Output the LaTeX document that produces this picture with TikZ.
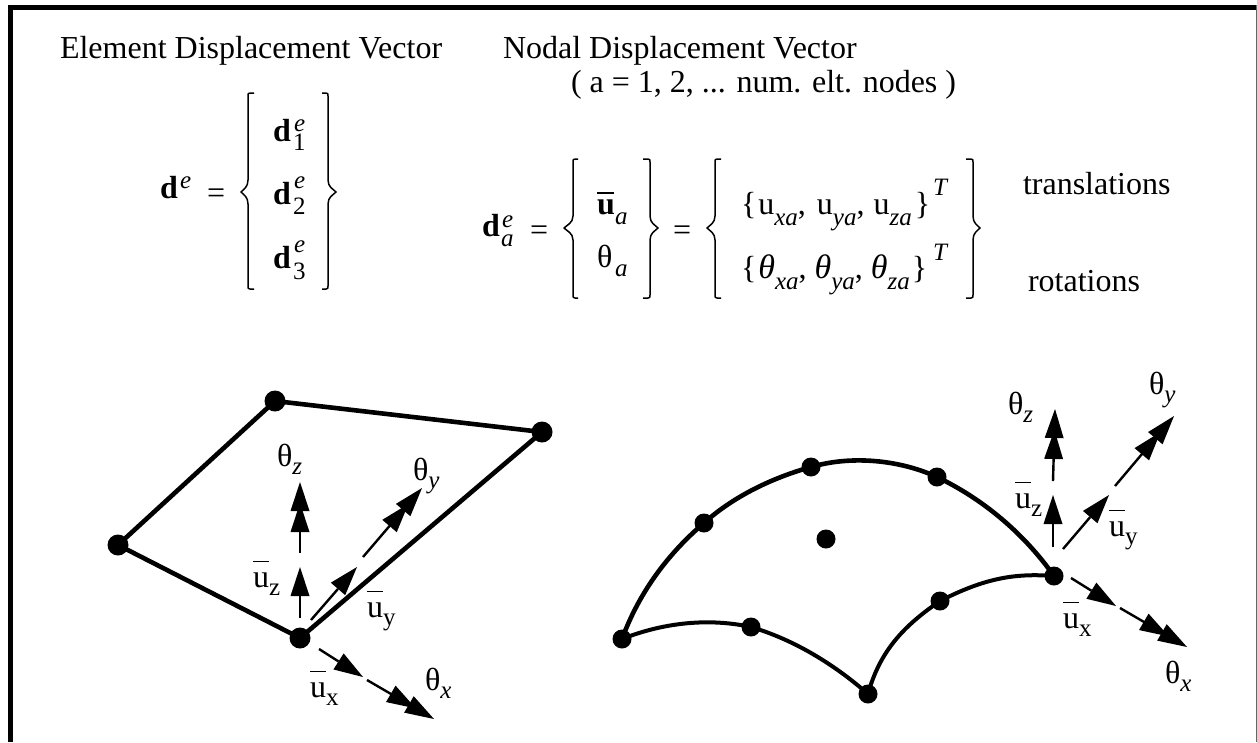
\documentclass[tikz,border=0pt]{standalone}
\usepackage{fontspec}
\setmainfont{Liberation Serif}
\usetikzlibrary{arrows.meta}
\newcommand{\mysb}[1]{\raisebox{-11pt}{\fontsize{25}{25}\selectfont\itshape #1}}
\newcommand{\mysbup}[1]{\raisebox{-8pt}{\fontsize{25}{25}\selectfont #1}}
\newcommand{\ubr}{\rlap{\raisebox{25pt}{\rule{16pt}{1pt}}}u}
\newcommand{\ubb}{\rlap{\raisebox{20pt}{\rule{17pt}{2pt}}}\textbf{u}}
\newcommand{\smit}[1]{{\fontsize{25}{25}\selectfont\itshape #1}}
\tikzset{
  x=1pt,y=-1pt,
  txt/.style={inner sep=0pt,outer sep=0pt,anchor=base west,font=\fontsize{32}{36}\selectfont},
  small/.style={inner sep=0pt,outer sep=0pt,anchor=base west,font=\fontsize{25}{28}\selectfont\itshape},
  dot/.style={circle,fill=black,inner sep=0pt,minimum size=19pt},
  bigdot/.style={circle,fill=black,inner sep=0pt,minimum size=21pt},
  edge/.style={line width=4.6pt,line join=round},
  bracepath/.style={line width=1.5pt,line join=round},
  shaft/.style={line width=2.4pt,-{Triangle[length=29pt,width=19pt,line width=0pt]}},
  shafttwo/.style={line width=2.4pt,-{Triangle[length=29pt,width=19pt,line width=0pt,sep=-8pt]Triangle[length=29pt,width=19pt,line width=0pt]}},
}
\newcommand{\lbr}[6]{% spine tip serif top mid bottom
  \draw[bracepath] (#3,#4) -- (#1+2,#4) .. controls (#1,#4) and (#1,#4+1) .. (#1,#4+3) -- (#1,#5-12) .. controls (#1,#5-5) and (#2+3,#5-3) .. (#2,#5) .. controls (#2+3,#5+3) and (#1,#5+5) .. (#1,#5+12) -- (#1,#6-3) .. controls (#1,#6-1) and (#1,#6) .. (#1+2,#6) -- (#3,#6);}
\newcommand{\rbr}[6]{%
  \draw[bracepath] (#3,#4) -- (#1-2,#4) .. controls (#1,#4) and (#1,#4+1) .. (#1,#4+3) -- (#1,#5-12) .. controls (#1,#5-5) and (#2-3,#5-3) .. (#2,#5) .. controls (#2-3,#5+3) and (#1,#5+5) .. (#1,#5+12) -- (#1,#6-3) .. controls (#1,#6-1) and (#1,#6) .. (#1-2,#6) -- (#3,#6);}
\begin{document}
\begin{tikzpicture}
\useasboundingbox (0,0) rectangle (1257,742);
\fill[white] (0,0) rectangle (1257,742);
% frame
\fill[black] (8,5) rectangle (1257,9.5);
\fill[black] (8,5) rectangle (13,742);
\fill[black!60] (1255.5,5) rectangle (1257,742);
% headings
\node[txt] (h1) at (60,58) {Element Displacement Vector};
\node[txt] (h2) at (503,58) {Nodal Displacement Vector};
\node[txt] (h3) at (571,92) {( a = 1, 2, ... num. elt. nodes )};
% element vector
\node[txt] (de) at (160,198) {\textbf{d}};
\node[small] (dee) at (180,188) {e};
\node[txt] (eq1) at (207,203) {=};
\lbr{248}{241}{254}{93}{192}{289}
\rbr{328}{336}{322}{93}{192}{289}
\node[txt] (d1) at (273,141) {\textbf{d}};
\node[small] (d1e) at (294,131) {e};
\node[small,font=\fontsize{25}{28}\selectfont] (d1s) at (293,150) {1};
\node[txt] (d2) at (273,204) {\textbf{d}};
\node[small] (d2e) at (294,188) {e};
\node[small,font=\fontsize{25}{28}\selectfont] (d2s) at (293,214) {2};
\node[txt] (d3) at (273,268) {\textbf{d}};
\node[small] (d3e) at (294,252) {e};
\node[small,font=\fontsize{25}{28}\selectfont] (d3s) at (293,279) {3};
% nodal vector
\node[txt] (da) at (482,236) {\textbf{d}};
\node[small] (dae) at (502,227) {e};
\node[small] (das) at (501,246) {a};
\node[txt] (eq2) at (530,240) {=};
\lbr{573}{564}{578}{159}{228}{298}
\rbr{650}{658}{643}{159}{228}{298}
\node[txt] (ua) at (597,214) {\ubb};
\node[small] (uas) at (615,224) {a};
\node[txt] (tha) at (597,267) {θ};
\node[small] (thas) at (615,276) {a};
\node[txt] (eq3) at (673,240) {=};
\lbr{715}{707}{721}{159}{228}{298}
\rbr{973}{980}{966}{159}{228}{298}
\node[txt] (r1) at (741,214) {\{\hspace{2pt}u\mysb{xa},\hspace{3pt} u\mysb{ya},\hspace{1pt} u\mysb{za}\hspace{3pt}\}};
\node[txt,font=\fontsize{25}{30}\selectfont\itshape] (t1) at (933,195) {T};
\node[txt] (r2) at (741,278) {\{\hspace{2pt}{\fontsize{34}{36}\selectfont\textit{θ}}\mysb{xa}, {\fontsize{34}{36}\selectfont\textit{θ}}\mysb{ya}, {\fontsize{34}{36}\selectfont\textit{θ}}\mysb{za}\hspace{2pt}\}};
\node[txt,font=\fontsize{25}{30}\selectfont\itshape] (t2) at (933,260) {T};
\node[txt] (tr) at (1023,194) {translations};
\node[txt] (ro) at (1028,291) {rotations};
% flat element
\node[bigdot] (qa) at (118,545) {};
\node[bigdot] (qb) at (275,401) {};
\node[bigdot] (qc) at (542,432) {};
\node[bigdot] (qd) at (300,638) {};
\draw[edge] (qa.center) -- (qb.center) -- (qc.center) -- (qd.center) -- cycle;
\coordinate (zs) at (300,618); \coordinate (ze) at (300,567);
\coordinate (zt) at (300,553); \coordinate (zf) at (300,482);
\draw[shaft] (zs) -- (ze);
\draw[shafttwo] (zt) -- (zf);
\coordinate (ys) at (311,620); \coordinate (ye) at (357,567);
\coordinate (yt) at (363,557); \coordinate (yf) at (422,488);
\draw[shaft] (ys) -- (ye);
\draw[shafttwo] (yt) -- (yf);
\coordinate (xs) at (319,649); \coordinate (xe) at (363,677);
\coordinate (xt) at (367,680); \coordinate (xf) at (434,719);
\draw[shaft] (xs) -- (xe);
\draw[shafttwo] (xt) -- (xf);
\node[txt] (lthz) at (277,466) {θ\raisebox{-8pt}{\smit{z}}};
\node[txt] (lthy) at (413,480) {θ\raisebox{-8pt}{\smit{y}}};
\node[txt] (lthx) at (425,690) {θ\raisebox{-8pt}{\smit{x}}};
\node[txt] (luz) at (253,587) {\ubr\mysbup{z}};
\node[txt] (luy) at (367,617) {\ubr\mysbup{y}};
\node[txt] (lux) at (310,697) {\ubr\mysbup{x}};
% curved element
\coordinate (m0) at (622,639);
\coordinate (m1) at (704,523);
\coordinate (m2) at (811,467);
\coordinate (m3) at (937,477);
\coordinate (m4) at (1054,576);
\coordinate (m5) at (940,601);
\coordinate (m6) at (868,694);
\coordinate (m7) at (751,627);
\draw[edge] (m0) .. controls (640,590) and (670,552) .. (m1) .. controls (735,495) and (775,477) .. (m2) .. controls (852,455) and (900,460) .. (m3) .. controls (985,500) and (1025,535) .. (m4);
\draw[edge,line width=4pt] (m0) .. controls (665,622) and (710,618) .. (m7) .. controls (795,640) and (835,665) .. (m6);
\draw[edge,line width=4pt] (m6) .. controls (880,650) and (905,625) .. (m5) .. controls (985,578) and (1015,573) .. (m4);
\node[dot] (n0) at (m0) {};
\node[dot] (n1) at (m1) {};
\node[dot] (n2) at (m2) {};
\node[dot] (n3) at (m3) {};
\node[dot] (n4) at (m4) {};
\node[dot] (n5) at (m5) {};
\node[dot] (n6) at (m6) {};
\node[dot] (n7) at (m7) {};
\node[dot] (n8) at (826,539) {};
\coordinate (zzs) at (1053,547); \coordinate (zze) at (1053,495);
\coordinate (zzt) at (1053,481); \coordinate (zzf) at (1055,409);
\draw[shaft] (zzs) -- (zze);
\draw[shafttwo] (zzt) -- (zzf);
\coordinate (yys) at (1063,549); \coordinate (yye) at (1109,495);
\coordinate (yyt) at (1115,486); \coordinate (yyf) at (1174,416);
\draw[shaft] (yys) -- (yye);
\draw[shafttwo] (yyt) -- (yyf);
\coordinate (xxs) at (1071,578); \coordinate (xxe) at (1116,606);
\coordinate (xxt) at (1120,608); \coordinate (xxf) at (1187,647);
\draw[shaft] (xxs) -- (xxe);
\draw[shafttwo] (xxt) -- (xxf);
\node[txt] (rthz) at (1008,414) {θ\raisebox{-8pt}{\smit{z}}};
\node[txt] (rthy) at (1149,394) {θ\raisebox{-8pt}{\smit{y}}};
\node[txt] (rthx) at (1165,683) {θ\raisebox{-8pt}{\smit{x}}};
\node[txt] (ruz) at (1015,508) {\ubr\mysbup{z}};
\node[txt] (ruy) at (1109,536) {\ubr\mysbup{y}};
\node[txt] (rux) at (1063,628) {\ubr\mysbup{x}};
\end{tikzpicture}
\end{document}
